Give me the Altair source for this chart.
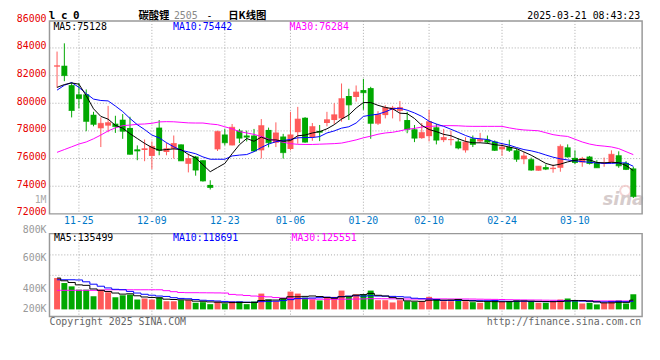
import altair as alt
import pandas as pd

# ---------------- data ----------------
date_labels = ["11-25", "12-09", "12-23", "01-06", "01-20", "02-10", "02-24", "03-10"]
date_index = [3, 13, 23, 32, 42, 51, 61, 71]

opens = [82650, 82714, 81310, 80643, 80643, 79167, 78190, 78381, 78524, 78810,
         78214, 76667, 76619, 76190, 78238, 76476, 76714, 77024, 75619, 76143,
         75881, 74095, 76667, 77738, 76952, 78024, 77667, 77667, 76595, 78071,
         77143, 77595, 76690, 77905, 78952, 77548, 78000, 78571, 78786, 78905,
         80524, 80452, 80952, 81095, 78524, 79143, 79524, 79452, 78786, 78119,
         77476, 77619, 78262, 77333, 77333, 77238, 76595, 77452, 77238, 77380,
         77238, 76667, 76833, 76595, 75952, 75952, 75119, 75381, 75238, 75333,
         76810, 76048, 75714, 76143, 75714, 75619, 75714, 76238, 75690, 75286]
highs = [83738, 84333, 81476, 81476, 81000, 79381, 78976, 79810, 79095, 79214,
         79024, 76952, 77381, 77238, 78786, 77143, 77667, 77024, 76357, 76190,
         75881, 74429, 78024, 78143, 78500, 78143, 78024, 78143, 78857, 78238,
         78619, 77786, 79381, 79738, 79000, 78571, 78429, 79381, 80000, 81429,
         81048, 81286, 81762, 81190, 79429, 79857, 79810, 80167, 79381, 78429,
         78571, 79524, 78500, 78143, 78024, 77476, 77548, 77667, 77857, 77667,
         77310, 77119, 77357, 76714, 76476, 76071, 75452, 75571, 75571, 77024,
         77024, 76595, 76119, 76190, 75881, 76071, 76595, 76524, 75810, 75405]
lows = [81119, 81595, 78976, 79619, 77976, 78333, 76833, 77905, 77857, 77428,
        76286, 75881, 75810, 75238, 76238, 76238, 76000, 75833, 75000, 74762,
        74333, 73762, 76548, 76952, 76952, 77119, 77238, 76476, 76000, 76810,
        76833, 76000, 76595, 77071, 77143, 77286, 77262, 78333, 78500, 78667,
        78786, 80119, 79524, 77429, 78429, 78905, 78905, 78690, 77833, 77190,
        77429, 77238, 77024, 77190, 76952, 76667, 76429, 76833, 77143, 77071,
        76548, 76190, 76476, 75762, 75595, 75119, 75119, 75167, 74976, 75048,
        76071, 75595, 75405, 75571, 75333, 75405, 75714, 75333, 75167, 73143]
closes = [82714, 82000, 79476, 80333, 78690, 78476, 78548, 78595, 78310, 77976,
          76310, 76548, 76714, 76881, 76595, 76714, 77095, 75833, 76000, 75167,
          74381, 73905, 77952, 77143, 78262, 77476, 77548, 76548, 78381, 77143,
          77857, 76429, 77714, 78857, 77190, 78310, 77905, 78810, 79167, 80333,
          79881, 80810, 80762, 78548, 79190, 79690, 79667, 79690, 78119, 77476,
          77881, 78667, 77333, 77524, 77381, 76762, 77190, 77024, 77381, 77190,
          76595, 76833, 76595, 75952, 76190, 75167, 75452, 75238, 75310, 76881,
          76119, 75714, 76000, 75643, 75333, 75690, 76310, 75476, 75214, 73262]
volumes_k = [460, 387, 338, 290, 290, 193, 290, 251, 178, 207,
             218, 145, 160, 145, 178, 120, 120, 135, 135, 97,
             106, 77, 116, 87, 116, 116, 77, 116, 232, 145,
             116, 170, 261, 232, 174, 149, 131, 184, 184, 276,
             184, 222, 218, 276, 135, 135, 102, 135, 120, 112,
             120, 184, 145, 120, 120, 149, 120, 106, 97, 112,
             135, 112, 112, 135, 126, 120, 97, 97, 126, 145,
             160, 126, 87, 97, 73, 97, 126, 131, 87, 222]
ma5 = [81150, 81350, 81470, 81380, 80550, 79600, 79050, 78850, 78400, 78200,
       77800, 77450, 77100, 76800, 76600, 76650, 76700, 76650, 76300, 76050,
       75550, 75050, 75350, 75650, 76350, 77000, 77450, 77250, 77550, 77350,
       77350, 77250, 77300, 77650, 77700, 77850, 77950, 78150, 78450, 78850,
       79150, 79650, 80050, 80050, 79850, 79700, 79600, 79280, 79250, 78900,
       78400, 78100, 77950, 77750, 77650, 77430, 77240, 77140, 77140, 77100,
       77000, 76950, 76830, 76720, 76480, 76240, 75950, 75650, 75500, 75600,
       75760, 75870, 75940, 75900, 75720, 75690, 75730, 75700, 75500, 75128]
ma10 = [80950, 81300, 81500, 81150, 80700, 80300, 80200, 80170, 79800, 79400,
        78900, 78450, 78100, 77700, 77500, 77150, 76850, 76600, 76480, 76350,
        76120, 75950, 75950, 75950, 76190, 76250, 76290, 76500, 76800, 77050,
        77220, 77310, 77380, 77500, 77520, 77520, 77590, 77850, 78000, 78200,
        78300, 78570, 79050, 79140, 79210, 79380, 79600, 79640, 79500, 79300,
        79050, 78700, 78500, 78330, 78120, 77900, 77670, 77480, 77430, 77380,
        77200, 77080, 76970, 76800, 76650, 76560, 76430, 76260, 76100, 75980,
        75900, 75830, 75780, 75730, 75680, 75650, 75650, 75680, 75690, 75442]
ma30 = [76450, 76650, 76850, 77050, 77200, 77430, 77700, 78000, 78220, 78380,
        78420, 78480, 78500, 78550, 78650, 78670, 78660, 78620, 78580, 78570,
        78570, 78500, 78450, 78300, 78150, 77950, 77850, 77750, 77600, 77400,
        77300, 77180, 77080, 77030, 77020, 77020, 77040, 77060, 77080, 77120,
        77230, 77350, 77500, 77620, 77760, 77850, 77900, 78000, 78120, 78180,
        78280, 78330, 78350, 78380, 78380, 78370, 78340, 78330, 78330, 78330,
        78330, 78330, 78220, 78130, 78070, 78040, 78010, 77870, 77730, 77650,
        77600, 77400, 77200, 77050, 76950, 76900, 76840, 76720, 76500, 76284]
vol_ma5_k = [460, 420, 395, 360, 353, 300, 280, 263, 240, 224,
             229, 200, 182, 175, 169, 150, 145, 140, 138, 121,
             119, 110, 106, 97, 100, 102, 102, 102, 131, 137,
             137, 156, 185, 185, 191, 197, 189, 174, 164, 185,
             192, 210, 217, 235, 207, 197, 173, 157, 125, 121,
             118, 134, 136, 136, 138, 144, 131, 123, 118, 117,
             114, 112, 114, 121, 124, 121, 118, 115, 113, 117,
             125, 131, 129, 123, 109, 96, 96, 105, 103, 135.5]
vol_ma10_k = [435, 435, 435, 432, 405, 370, 340, 315, 295, 289,
              264, 240, 222, 208, 196, 190, 172, 161, 156, 145,
              134, 128, 123, 117, 110, 110, 106, 104, 114, 118,
              120, 129, 143, 158, 164, 167, 172, 180, 174, 188,
              194, 200, 195, 200, 196, 194, 191, 187, 180, 164,
              157, 153, 146, 131, 130, 131, 132, 130, 127, 127,
              129, 121, 118, 119, 120, 117, 115, 114, 117, 120,
              123, 124, 122, 118, 113, 110, 113, 117, 113, 118.7]
vol_ma30_k = [280, 280, 280, 280, 280, 280, 280, 288, 288, 288,
              288, 288, 288, 288, 288, 275, 260, 248, 245, 245,
              244, 243, 242, 240, 220, 212, 204, 196, 190, 184,
              174, 166, 162, 159, 156, 153, 150, 148, 148, 150,
              150, 152, 154, 157, 157, 156, 155, 154, 153, 152,
              152, 154, 154, 154, 153, 153, 153, 152, 150, 148,
              147, 145, 142, 140, 139, 138, 137, 135, 134, 132,
              131, 130, 128, 126, 125, 124, 124, 124, 124, 125.5]
price_ticks = [72000, 74000, 76000, 78000, 80000, 82000, 84000, 86000]
price_grid = [74000, 76000, 78000, 80000, 82000, 84000]
vol_grid = [800000, 500000]

# ---------------- styling ----------------
UP, DOWN = "#ff5a5a", "#00a800"
MONO = "DejaVu Sans Mono"
CJK = "Noto Sans CJK SC"
GRID = "#aaaaaa"
BORDER = "#999999"
W, H = 600, 300
P_BOT = 195.3
V_TOP, V_BOT = 215.3, 299.3

n = len(closes)
df = pd.DataFrame({
    "i": list(range(n)), "open": opens, "high": highs, "low": lows, "close": closes,
    "vol": [v * 1000 for v in volumes_k],
    "ma5": ma5, "ma10": ma10, "ma30": ma30,
    "vma5": [v * 1000 for v in vol_ma5_k],
    "vma10": [v * 1000 for v in vol_ma10_k],
    "vma30": [v * 1000 for v in vol_ma30_k],
})
df["dir"] = ["up" if c >= o else "down" for o, c in zip(opens, closes)]

xs = alt.Scale(domain=[-0.36, 79.53], nice=False, zero=False)
ps = alt.Scale(domain=[72000, 85950], range=[P_BOT, 0], nice=False, zero=False)
vs = alt.Scale(domain=[-105850, 1112150], range=[V_BOT, V_TOP], nice=False, zero=False)
X = alt.X("i:Q", scale=xs, axis=None)
col = alt.Color("dir:N", scale=alt.Scale(domain=["up", "down"], range=[UP, DOWN]), legend=None)


def PY(f):
    return alt.Y(f + ":Q", scale=ps, axis=None)


def VY(f):
    return alt.Y(f + ":Q", scale=vs, axis=None)


def txt(s, x, y, color="#000000", size=10, font=MONO, align="left", weight="normal", style="normal"):
    return alt.Chart(pd.DataFrame({"t": [s]})).mark_text(
        align=align, baseline="middle", color=color, fontSize=size, font=font,
        fontWeight=weight, fontStyle=style
    ).encode(text="t:N", x=alt.value(x), y=alt.value(y))


def box(y0, y1):
    return alt.Chart(pd.DataFrame({"a": [0]})).mark_rect(
        fillOpacity=0, stroke=BORDER, strokeWidth=1.5
    ).encode(x=alt.value(0), x2=alt.value(W), y=alt.value(y0), y2=alt.value(y1))


base = alt.Chart(df)
gdates = pd.DataFrame({"i": date_index, "lab": date_labels})

layers = []
# grid lines
layers.append(alt.Chart(gdates).mark_rule(color=GRID, strokeDash=[1, 2]).encode(
    x=X, y=alt.value(0), y2=alt.value(P_BOT)))
layers.append(alt.Chart(gdates).mark_rule(color=GRID, strokeDash=[1, 2]).encode(
    x=X, y=alt.value(V_TOP), y2=alt.value(V_BOT)))
layers.append(alt.Chart(pd.DataFrame({"p": price_grid})).mark_rule(color=GRID, strokeDash=[1, 2]).encode(
    y=PY("p"), x=alt.value(0), x2=alt.value(W)))
layers.append(alt.Chart(pd.DataFrame({"v": vol_grid})).mark_rule(color=GRID, strokeDash=[1, 2]).encode(
    y=VY("v"), x=alt.value(0), x2=alt.value(W)))

# watermark
layers.append(alt.Chart(pd.DataFrame({"a": [0]})).mark_point(
    shape="circle", size=110, filled=False, color="#f2c4c4", strokeWidth=2
).encode(x=alt.value(583), y=alt.value(172)))
layers.append(txt("sina", 602, 181, color="#d6cccc", size=18, font="DejaVu Sans",
                  align="right", weight="bold", style="italic"))

# volume bars
layers.append(base.mark_bar(size=6).encode(x=X, y=VY("vol"), y2=alt.datum(0), color=col))
# candles
layers.append(base.mark_rule(strokeWidth=1).encode(x=X, y=PY("low"), y2="high:Q", color=col))
layers.append(base.mark_bar(size=6).encode(x=X, y=PY("open"), y2="close:Q", color=col))
layers.append(base.mark_tick(orient="horizontal", size=6, thickness=1).encode(x=X, y=PY("close"), color=col))

# moving averages
layers.append(base.mark_line(color="#ff00ff", strokeWidth=1).encode(x=X, y=PY("ma30")))
layers.append(base.mark_line(color="#0000ff", strokeWidth=1).encode(x=X, y=PY("ma10")))
layers.append(base.mark_line(color="#000000", strokeWidth=1).encode(x=X, y=PY("ma5")))
layers.append(base.mark_line(color="#ff00ff", strokeWidth=1, interpolate="step").encode(x=X, y=VY("vma30")))
layers.append(base.mark_line(color="#0000ff", strokeWidth=1, interpolate="step").encode(x=X, y=VY("vma10")))
layers.append(base.mark_line(color="#000000", strokeWidth=1, interpolate="step").encode(x=X, y=VY("vma5")))

# panel borders
layers.append(box(0, P_BOT))
layers.append(box(V_TOP, V_BOT))

# price axis labels
layers.append(alt.Chart(pd.DataFrame({"p": price_ticks})).mark_text(
    align="right", baseline="middle", dy=-1.5, color="#e60000", fontSize=10, font=MONO
).encode(y=PY("p"), x=alt.value(-3), text=alt.Text("p:Q", format="d")))
layers.append(txt("1M", -3, 181.7, color="#aaaaaa", align="right"))
# volume axis labels
for lab, yy in zip(["800K", "600K", "400K", "200K"], [211.7, 240.3, 271.3, 292]):
    layers.append(txt(lab, -3, yy, color="#999999", align="right"))
# date labels
layers.append(alt.Chart(gdates).mark_text(
    align="center", baseline="middle", color="#0078c8", fontSize=10, font=MONO
).encode(x=X, y=alt.value(202.7), text="lab:N"))

# MA legends
layers.append(txt("MA5:75128", 4, 6))
layers.append(txt("MA10:75442", 125, 6, color="#0000ff"))
layers.append(txt("MA30:76284", 243, 6, color="#ff00ff"))
layers.append(txt("MA5:135499", 4.5, 219.5))
layers.append(txt("MA10:118691", 125, 219.5, color="#0000ff"))
layers.append(txt("MA30:125551", 245, 219.5, color="#ff00ff"))

# title row (kept inside the page margin)
for ch, xx in zip(["l", "c", "0"], [2.5, 15, 27]):
    layers.append(txt(ch, xx, -5.2, size=11, align="center", weight="bold"))
layers.append(txt("碳酸锂", 90, -4.8, size=10.5, font=CJK, weight="bold"))
layers.append(txt("2505", 126, -5.2, color="#888888", size=10))
layers.append(txt("-", 159, -5.2, size=10))
layers.append(txt("日K线图", 181, -4.8, size=10.5, font=CJK, weight="bold"))
layers.append(txt("2025-03-21 08:43:23", 598, -5.2, size=10, align="right"))

# footer
layers.append(txt("Copyright 2025 SINA.COM", 0, 304.5, color="#666666"))
layers.append(txt("http://finance.sina.com.cn", 599, 304.5, color="#666666", align="right"))

chart = alt.layer(*layers).resolve_scale(y="independent").properties(
    width=W, height=H,
    autosize=alt.AutoSizeParams(type="none"),
    padding={"left": 42, "top": 11, "right": 10, "bottom": 33},
).configure_view(stroke=None)

chart.save("out.html", embed_options={"renderer": "svg", "actions": False})
